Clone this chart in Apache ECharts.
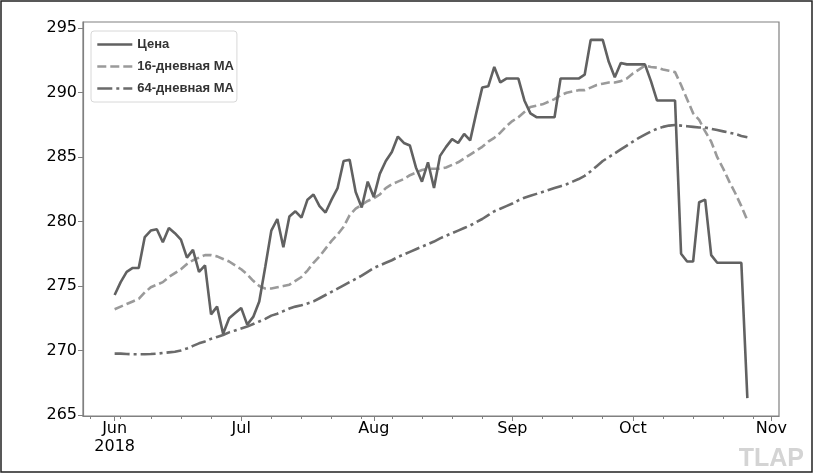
<!DOCTYPE html>
<html>
<head>
<meta charset="utf-8">
<script src="https://cdn.jsdelivr.net/npm/echarts@6/dist/echarts.min.js"></script>
<style>
  html, body { margin: 0; padding: 0; background: #fff; }
  #chart { width: 816px; height: 475px; }
</style>
</head>
<body>
<div id="chart"></div>
<script>
// business-day index: 0 = 1 Jun 2018 ... 105 = 26 Oct 2018
const price = [
  274.3, 275.3, 276.1, 276.4, 276.4, 278.8, 279.3, 279.4, 278.4, 279.5,
  279.1, 278.6, 277.2, 277.8, 276.1, 276.6, 272.8, 273.4, 271.3, 272.5,
  272.9, 273.3, 272.0, 272.6, 273.8, 276.5, 279.3, 280.2, 278.0, 280.4,
  280.8, 280.3, 281.7, 282.1, 281.2, 280.7, 281.7, 282.6, 284.7, 284.8,
  282.3, 281.1, 283.1, 281.9, 283.7, 284.7, 285.4, 286.6, 286.1, 285.9,
  284.2, 283.1, 284.6, 282.6, 285.1, 285.8, 286.4, 286.1, 286.8, 286.3,
  288.4, 290.4, 290.5, 292.0, 290.8, 291.1, 291.1, 291.1, 289.4, 288.4,
  288.1, 288.1, 288.1, 288.1, 291.1, 291.1, 291.1, 291.1, 291.4, 294.1,
  294.1, 294.1, 292.4, 291.2, 292.3, 292.2, 292.2, 292.2, 292.2, 290.9,
  289.4, 289.4, 289.4, 289.4, 277.5, 276.9, 276.9, 281.5, 281.7, 277.4,
  276.8, 276.8, 276.8, 276.8, 276.8, 266.3
];
const ma16 = [
  273.2, 273.4, 273.6, 273.8, 274.0, 274.5, 274.9, 275.1, 275.3, 275.7,
  276.0, 276.3, 276.7, 277.0, 277.2, 277.4, 277.4, 277.3, 277.1, 276.9,
  276.6, 276.3, 275.9, 275.4, 275.0, 274.8, 274.8, 274.9, 275.0, 275.1,
  275.4, 275.7, 276.2, 276.8, 277.3, 277.9, 278.5, 279.0, 279.6, 280.5,
  281.0, 281.3, 281.6, 281.8, 282.1, 282.6, 282.9, 283.1, 283.3, 283.6,
  283.8, 284.0, 284.1, 284.1, 284.1, 284.2, 284.4, 284.6, 284.9, 285.2,
  285.5, 285.8, 286.2, 286.5, 286.9, 287.4, 287.8, 288.1, 288.5, 288.9,
  289.0, 289.1, 289.3, 289.5, 289.8, 290.0, 290.1, 290.2, 290.2, 290.4,
  290.6, 290.7, 290.8, 290.8, 290.9, 291.1, 291.5, 291.8, 292.1, 292.0,
  291.95, 291.8, 291.7, 291.6, 290.6, 289.5, 288.4, 287.9, 287.0, 286.2,
  285.0, 284.1, 283.1, 282.2, 281.2, 280.1
];
const ma64 = [
  269.75, 269.75, 269.72, 269.7, 269.7, 269.7, 269.72, 269.75, 269.8, 269.85,
  269.9, 270.0, 270.15, 270.35, 270.55, 270.7, 270.9, 271.05, 271.2, 271.4,
  271.55, 271.7, 271.85, 272.05, 272.25, 272.45, 272.7, 272.85, 273.05, 273.25,
  273.4, 273.5, 273.65, 273.8, 274.05, 274.3, 274.55, 274.8, 275.05, 275.3,
  275.55, 275.8, 276.1, 276.4, 276.6, 276.8, 277.0, 277.25, 277.45, 277.65,
  277.85, 278.05, 278.25, 278.45, 278.7, 278.9, 279.1, 279.3, 279.5, 279.7,
  279.95, 280.2, 280.5, 280.8, 281.0, 281.2, 281.4, 281.65, 281.85, 282.0,
  282.15, 282.3, 282.45, 282.6, 282.75, 282.9, 283.1, 283.3, 283.55, 283.9,
  284.3, 284.7, 285.0, 285.3, 285.6, 285.9, 286.2, 286.5, 286.75, 287.0,
  287.2, 287.35, 287.45, 287.5, 287.45, 287.4, 287.35, 287.3, 287.3, 287.2,
  287.1, 287.0, 286.9, 286.8, 286.65, 286.55
];

const monthTicks = [0, 21, 43, 66, 86, 109];
const monthLabels = ['Jun\n2018', 'Jul', 'Aug', 'Sep', 'Oct', 'Nov'];
const weekTicks = [-4, 1, 6, 11, 16, 21, 26, 31, 36, 41, 46, 51, 56, 61, 66, 71, 76, 81, 86, 91, 96, 101, 106];
const yTicks = [265, 270, 275, 280, 285, 290, 295];
const seriesNames = ['Цена', '16-дневная MA', '64-дневная MA'];

const toPoints = arr => arr.map((v, i) => [i, v]);

const chart = echarts.init(document.getElementById('chart'), null, { renderer: 'canvas' });

const axisGray = '#808080';
const font = 'DejaVu Sans';

const option = {
  backgroundColor: '#fff',
  animation: false,
  grid: {
    left: 83,
    top: 22,
    width: 696,
    height: 394,
    show: true,
    borderColor: axisGray,
    borderWidth: 1.2
  },
  xAxis: [
    {
      type: 'value',
      min: -5.25,
      max: 110.25,
      axisLine: { onZero: false, lineStyle: { color: axisGray, width: 1.2 } },
      axisTick: { customValues: monthTicks, length: 5, lineStyle: { color: axisGray, width: 1 } },
      axisLabel: {
        customValues: monthTicks,
        margin: 4,
        color: '#000',
        fontFamily: font,
        fontSize: 16,
        lineHeight: 18,
        formatter: v => monthLabels[monthTicks.indexOf(v)]
      },
      splitLine: { show: false }
    },
    {
      type: 'value',
      min: -5.25,
      max: 110.25,
      position: 'bottom',
      axisLine: { show: false, onZero: false },
      axisTick: { customValues: weekTicks, length: 3, lineStyle: { color: axisGray, width: 1 } },
      axisLabel: { show: false },
      splitLine: { show: false }
    }
  ],
  yAxis: {
    type: 'value',
    min: 264.91,
    max: 295.49,
    axisLine: { show: true, onZero: false, lineStyle: { color: axisGray, width: 1.2 } },
    axisTick: { show: true, customValues: yTicks, length: 5, lineStyle: { color: axisGray, width: 1 } },
    axisLabel: {
      customValues: yTicks,
      margin: 6,
      color: '#000',
      fontFamily: font,
      fontSize: 16
    },
    splitLine: { show: false }
  },
  legend: {
    orient: 'vertical',
    left: 91,
    top: 31,
    padding: [7, 3, 7, 5],
    itemWidth: 35,
    itemHeight: 14,
    itemGap: 9,
    backgroundColor: '#fff',
    borderColor: '#d8d8d8',
    borderWidth: 1,
    borderRadius: 3,
    data: seriesNames,
    itemStyle: { color: 'rgba(0,0,0,0)', borderWidth: 0, opacity: 0 },
    lineStyle: { width: 2.6 },
    textStyle: {
      fontFamily: 'Liberation Sans',
      fontWeight: 'bold',
      fontSize: 13,
      color: '#333'
    }
  },
  graphic: [
    {
      type: 'rect',
      shape: { x: 1, y: 1, width: 811, height: 471 },
      style: { fill: 'none', stroke: '#222', lineWidth: 1.5 },
      silent: true
    },
    {
      type: 'text',
      right: 12,
      bottom: 3,
      style: {
        text: 'TLAP',
        fill: '#d4d4d4',
        font: 'bold 25px "Liberation Sans"'
      },
      silent: true
    }
  ],
  series: [
    {
      name: seriesNames[0],
      type: 'line',
      data: toPoints(price),
      showSymbol: false,
      symbol: 'none',
      lineStyle: { color: '#616161', width: 2.6 },
      itemStyle: { color: '#616161' },
      z: 3
    },
    {
      name: seriesNames[1],
      type: 'line',
      data: toPoints(ma16),
      showSymbol: false,
      symbol: 'none',
      lineStyle: { color: '#9a9a9a', width: 2.6, type: [9, 4] },
      itemStyle: { color: '#9a9a9a' },
      z: 2
    },
    {
      name: seriesNames[2],
      type: 'line',
      data: toPoints(ma64),
      showSymbol: false,
      symbol: 'none',
      lineStyle: { color: '#6b6b6b', width: 2.6, type: [15, 4, 3, 4] },
      itemStyle: { color: '#6b6b6b' },
      z: 2
    }
  ]
};

chart.setOption(option);
</script>
</body>
</html>
